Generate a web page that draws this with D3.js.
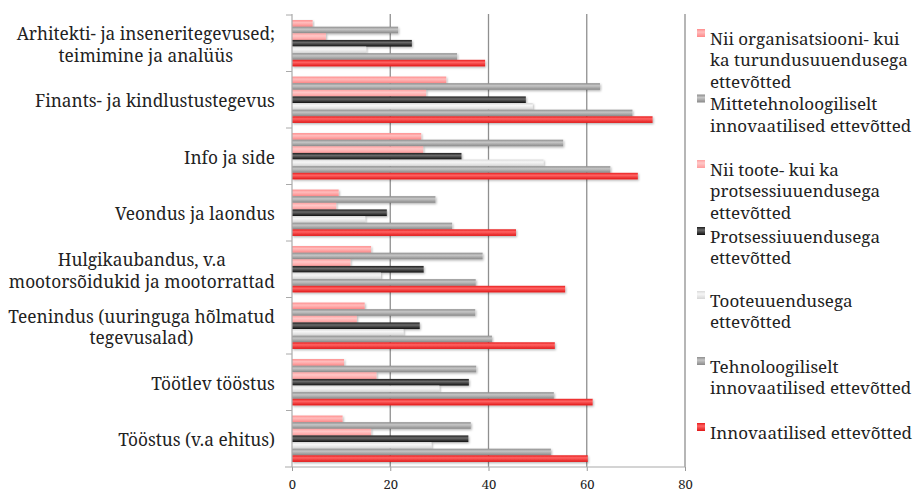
<!DOCTYPE html>
<html>
<head>
<meta charset="utf-8">
<script src="https://cdn.jsdelivr.net/npm/d3@7"></script>
<style>
  body { margin: 0; background: #fff; }
  svg { display: block; }
  text { font-family: "Noto Serif", "DejaVu Serif", serif; fill: #222; }
</style>
</head>
<body>
<svg id="chart" width="919" height="496"></svg>
<script>
// Industry groups, top to bottom ("\n" marks a line break in the label)
const categories = [
  "Arhitekti- ja inseneritegevused;\nteimimine ja analüüs",
  "Finants- ja kindlustustegevus",
  "Info ja side",
  "Veondus ja laondus",
  "Hulgikaubandus, v.a\nmootorsõidukid ja mootorrattad",
  "Teenindus (uuringuga hõlmatud\ntegevusalad)",
  "Töötlev tööstus",
  "Tööstus (v.a ehitus)"
];

// Share of enterprises (%) by innovation type, one value per industry group
const orgMarketing   = [4.2, 31.4, 26.3, 9.5, 16.1, 14.8, 10.6, 10.3];
const nonTech        = [21.6, 62.7, 55.2, 29.2, 38.8, 37.3, 37.5, 36.4];
const productProcess = [6.9, 27.3, 26.7, 9.0, 11.9, 13.2, 17.2, 16.1];
const processOnly    = [24.4, 47.6, 34.5, 19.3, 26.8, 26.0, 36.0, 35.9];
const productOnly    = [15.1, 49.0, 51.2, 14.9, 18.1, 22.7, 30.0, 28.4];
const technological  = [33.6, 69.3, 64.8, 32.6, 37.4, 40.7, 53.3, 52.7];
const innovative     = [39.3, 73.4, 70.4, 45.6, 55.6, 53.5, 61.2, 60.2];

const seriesNames = [
  "Nii organisatsiooni- kui\nka turundusuuendusega\nettevõtted",
  "Mittetehnoloogiliselt\ninnovaatilised ettevõtted",
  "Nii toote- kui ka\nprotsessiuuendusega\nettevõtted",
  "Protsessiuuendusega\nettevõtted",
  "Tooteuuendusega\nettevõtted",
  "Tehnoloogiliselt\ninnovaatilised ettevõtted",
  "Innovaatilised ettevõtted"
];
const seriesValues = [orgMarketing, nonTech, productProcess, processOnly, productOnly, technological, innovative];

const xTicks = [0, 20, 40, 60, 80];

// Gradient stops for the shaded bar look: [edge, highlight, edge]
const seriesShades = [
  ["#ff8c8c", "#ffbdbd", "#ff8888"],
  ["#8c8c8c", "#c6c6c6", "#888888"],
  ["#ffa0a0", "#ffc8c8", "#ff9c9c"],
  ["#1c1c1c", "#6a6a6a", "#101010"],
  ["#dadada", "#f6f6f6", "#d6d6d6"],
  ["#8e8e8e", "#c4c4c4", "#8a8a8a"],
  ["#e81c1c", "#ff6464", "#e01616"]
];

const svg = d3.select("#chart");
const margin = { left: 292, top: 15, bottom: 29 };
const H = 496;

const x = d3.scaleLinear().domain([0, 80]).range([margin.left, 685]);
const y0 = d3.scaleBand().domain(d3.range(categories.length))
  .range([margin.top, H - margin.bottom]).paddingInner(0.18).paddingOuter(0.09);
const y1 = d3.scaleBand().domain(d3.range(seriesNames.length)).range([0, y0.bandwidth()]);
const yEdges = d3.scaleBand().domain(d3.range(categories.length)).range([margin.top, H - margin.bottom]);

const defs = svg.append("defs");
seriesShades.forEach((s, i) => {
  const g = defs.append("linearGradient").attr("id", "shade" + i)
    .attr("x1", 0).attr("y1", 0).attr("x2", 0).attr("y2", 1);
  g.append("stop").attr("offset", "0%").attr("stop-color", s[0]);
  g.append("stop").attr("offset", "38%").attr("stop-color", s[1]);
  g.append("stop").attr("offset", "100%").attr("stop-color", s[2]);
});
const f = defs.append("filter").attr("id", "shadow")
  .attr("x", "-5%").attr("y", "-50%").attr("width", "115%").attr("height", "220%");
f.append("feDropShadow").attr("dx", 1).attr("dy", 1.2).attr("stdDeviation", 1)
  .attr("flood-color", "#000").attr("flood-opacity", 0.3);

const yBottom = H - margin.bottom;

// Vertical gridlines
svg.append("g").selectAll("line").data(xTicks.slice(1)).join("line")
  .attr("x1", d => x(d)).attr("x2", d => x(d))
  .attr("y1", margin.top - 1).attr("y2", yBottom)
  .attr("stroke", "#8f8f8f").attr("stroke-width", 1.3);

// Bars
const groups = svg.append("g").selectAll("g").data(categories).join("g")
  .attr("transform", (d, i) => `translate(0,${y0(i)})`);
groups.selectAll("rect")
  .data((d, ci) => seriesValues.map((vals, si) => ({ si, v: vals[ci] })))
  .join("rect")
  .attr("x", x(0))
  .attr("y", d => y1(d.si))
  .attr("width", d => x(d.v) - x(0))
  .attr("height", y1.bandwidth())
  .attr("fill", d => `url(#shade${d.si})`)
  .attr("filter", "url(#shadow)");

const serif = "\"Noto Serif\", \"DejaVu Serif\", serif";

// X axis
const xAxis = d3.axisBottom(x).tickValues(xTicks).tickSize(4).tickPadding(9);
const gx = svg.append("g").attr("transform", `translate(0,${yBottom})`).call(xAxis);
gx.select(".domain").remove();
gx.append("line").attr("x1", 285).attr("x2", x(80)).attr("y1", 0).attr("y2", 0)
  .attr("stroke", "#aaa").attr("stroke-width", 1.2);
gx.selectAll(".tick line").attr("stroke", "#999");
gx.selectAll(".tick text").attr("font-size", 13).attr("fill", "#222")
  .attr("font-family", serif);

// Y axis line and category separator ticks
svg.append("line").attr("x1", x(0)).attr("x2", x(0))
  .attr("y1", margin.top - 1).attr("y2", yBottom)
  .attr("stroke", "#aaa").attr("stroke-width", 1.2);
svg.append("g").selectAll("line").data(d3.range(categories.length)).join("line")
  .attr("x1", 286).attr("x2", x(0))
  .attr("y1", i => yEdges(i)).attr("y2", i => yEdges(i))
  .attr("stroke", "#aaa").attr("stroke-width", 1);

// Category labels (multi-line labels are centred on each other, block right-aligned)
const labelFont = 17.3, lineH = 21.5;
const labelG = svg.append("g");
categories.forEach((c, i) => {
  const lines = c.split("\n");
  const cy = y0(i) + y0.bandwidth() / 2 + 1.5;
  const t = labelG.append("text").attr("font-size", labelFont).attr("text-anchor", "middle");
  lines.forEach((ln, k) => {
    t.append("tspan").attr("x", 0)
      .attr("y", cy + (k - (lines.length - 1) / 2) * lineH)
      .attr("dy", "0.35em").text(ln);
  });
  const w = t.node().getBBox().width;
  t.attr("transform", `translate(${275 - w / 2},0)`);
});

// Legend
const legendFont = 17, legendLineH = 21.5;
const legendTop = [39, 104.5, 170, 237, 301, 367, 433];
const lg = svg.append("g");
seriesNames.forEach((name, i) => {
  const lines = name.split("\n");
  lg.append("rect").attr("x", 697).attr("y", legendTop[i] - 10).attr("width", 8).attr("height", 8)
    .attr("fill", `url(#shade${i})`);
  const t = lg.append("text").attr("font-size", legendFont);
  lines.forEach((ln, k) => {
    t.append("tspan").attr("x", 710).attr("y", legendTop[i] + k * legendLineH)
      .attr("dy", "0.35em").text(ln);
  });
});
</script>
</body>
</html>
